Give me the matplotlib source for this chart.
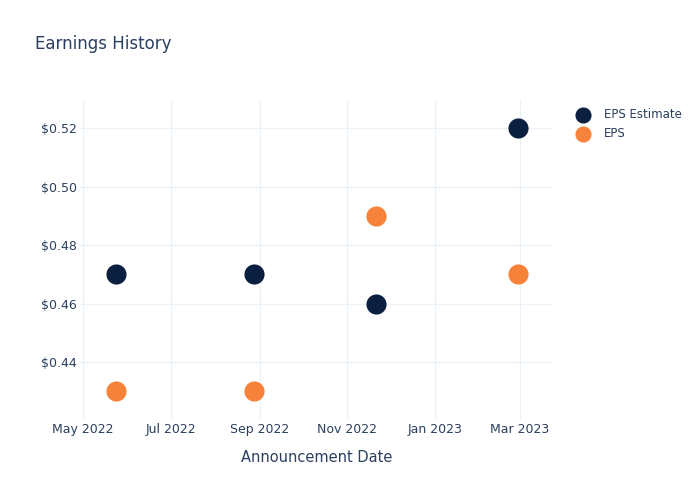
import datetime as dt

import matplotlib
matplotlib.use("Agg")
import matplotlib.pyplot as plt
import matplotlib.dates as mdates
from matplotlib.ticker import FuncFormatter

# data
dates = [dt.date(2022, 5, 24), dt.date(2022, 8, 28), dt.date(2022, 11, 21), dt.date(2023, 2, 28)]
eps_estimate = [0.47, 0.47, 0.46, 0.52]
eps_actual = [0.43, 0.43, 0.49, 0.47]
series_names = ["EPS Estimate", "EPS"]

TEXT = "#2a3f5f"
GRID = "#ebf0f8"
NAVY = "#0b1f40"
ORANGE = "#f7823a"

plt.rcParams['font.family'] = ['DejaVu Sans']

fig = plt.figure(figsize=(7, 5), dpi=100)
ax = fig.add_axes([80 / 700, 80 / 500, 473 / 700, 320 / 500])

ax.scatter(dates, eps_estimate, s=210, color=NAVY, label=series_names[0], zorder=3, linewidths=0)
ax.scatter(dates, eps_actual, s=210, color=ORANGE, label=series_names[1], zorder=3, linewidths=0)

ax.set_xlim(dt.date(2022, 4, 29), dt.date(2023, 3, 24))
ax.set_ylim(0.4202, 0.5296)

ax.xaxis.set_major_locator(mdates.MonthLocator(bymonth=[1, 3, 5, 7, 9, 11]))
ax.xaxis.set_major_formatter(mdates.DateFormatter("%b %Y"))
ax.set_yticks([0.44, 0.46, 0.48, 0.50, 0.52])
ax.yaxis.set_major_formatter(FuncFormatter(lambda v, p: "$%.2f" % v))

ax.grid(True, color=GRID, linewidth=0.8)
ax.set_axisbelow(True)
for s in ax.spines.values():
    s.set_visible(False)
ax.tick_params(length=0, colors=TEXT, labelsize=9)
ax.tick_params(axis="x", pad=2)
ax.tick_params(axis="y", pad=2)

ax.set_xlabel("Announcement Date", color=TEXT, fontsize=10.5, labelpad=10)
fig.text(35 / 700, 1 - 44 / 500, "Earnings History", color=TEXT, fontsize=12, va="center")

leg = ax.legend(loc="upper left", bbox_to_anchor=(1.02, 1.0), frameon=False, fontsize=8.5,
                labelcolor=TEXT, handletextpad=0.8, markerscale=0.8, borderaxespad=0.3,
                labelspacing=0.5)

fig.savefig("out.png", dpi=100)
plt.close()
